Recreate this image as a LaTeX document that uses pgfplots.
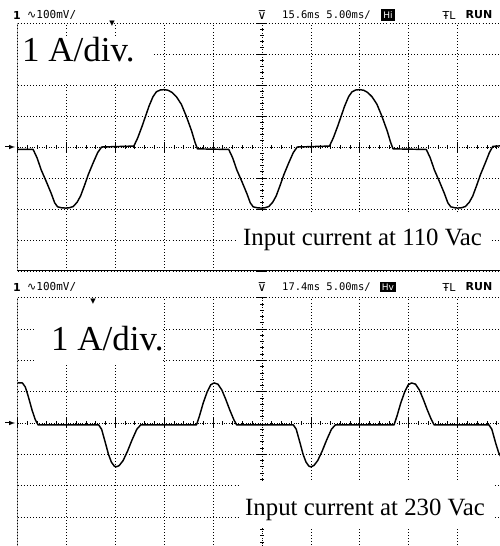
\documentclass[border=0pt]{standalone}
\usepackage{fontspec}
\setmainfont{Liberation Serif}
\newfontfamily\scopefont{DejaVu Sans Mono}
\newfontfamily\symfont{DejaVu Sans}
\usepackage{pgfplots}
\pgfplotsset{compat=1.18}
\pgfplotsset{scopegrid/.style={
  scale only axis, width=489pt,
  xmin=-5, xmax=5, ymin=-4, ymax=4,
  axis lines=middle,
  axis line style={-, black, line width=0.7pt, dash pattern=on 0.8pt off 1.6pt},
  every inner x axis line/.append style={-},
  every inner y axis line/.append style={-},
  xtick={-5,-4,-3,-2,-1,0,1,2,3,4,5}, ytick={-4,-3,-2,-1,0,1,2,3,4},
  minor tick num=4,
  xticklabels={}, yticklabels={},
  tick align=center,
  major tick length=10pt, minor tick length=4pt,
  tick style={black, line width=0.8pt, solid},
  grid=major,
  grid style={black, line width=0.7pt, dash pattern=on 0.7pt off 2.4pt},
  clip=true,
}}
\begin{document}
\begin{tikzpicture}[x=1pt,y=1pt]
\useasboundingbox (0,0) rectangle (500,546);
\clip (0,0) rectangle (500,546);
% ---------- top panel: 110 Vac ----------
\begin{axis}[scopegrid, at={(17.5pt,523pt)}, anchor=north west, height=248pt]
\addplot[black, line width=1.45pt, line join=round] coordinates {
(-5.00,-0.08) (-4.68,-0.08) (-4.60,-0.35) (-4.515,-0.74) (-4.41,-1.12) (-4.31,-1.50)
(-4.24,-1.80) (-4.18,-1.93) (-4.10,-1.96) (-4.02,-1.97) (-3.94,-1.96) (-3.86,-1.92)
(-3.78,-1.78) (-3.71,-1.58) (-3.63,-1.24) (-3.55,-0.88) (-3.45,-0.50) (-3.36,-0.18)
(-3.28,0.00) (-2.62,0.03) (-2.54,0.30) (-2.45,0.68) (-2.38,1.00) (-2.31,1.32)
(-2.23,1.62) (-2.16,1.78) (-2.08,1.84) (-2.00,1.85) (-1.92,1.83) (-1.84,1.76)
(-1.75,1.62) (-1.65,1.38) (-1.55,1.00) (-1.44,0.52) (-1.37,0.15) (-1.32,-0.06)
(-0.68,-0.08) (-0.60,-0.35) (-0.515,-0.74) (-0.41,-1.12) (-0.31,-1.50) (-0.24,-1.80)
(-0.18,-1.93) (-0.10,-1.96) (-0.02,-1.97) (0.06,-1.96) (0.14,-1.92) (0.22,-1.78)
(0.29,-1.58) (0.37,-1.24) (0.45,-0.88) (0.55,-0.50) (0.64,-0.18) (0.72,0.00)
(1.38,0.03) (1.46,0.30) (1.55,0.68) (1.62,1.00) (1.69,1.32) (1.77,1.62)
(1.84,1.78) (1.92,1.84) (2.00,1.85) (2.08,1.83) (2.16,1.76) (2.25,1.62)
(2.35,1.38) (2.45,1.00) (2.56,0.52) (2.63,0.15) (2.68,-0.06) (3.36,-0.08)
(3.44,-0.35) (3.525,-0.74) (3.63,-1.12) (3.73,-1.50) (3.80,-1.80) (3.86,-1.93)
(3.94,-1.96) (4.00,-1.97) (4.08,-1.96) (4.16,-1.92) (4.24,-1.78) (4.31,-1.58)
(4.39,-1.24) (4.47,-0.88) (4.57,-0.50) (4.65,-0.18) (4.72,0.02) (5.00,0.05)
};
\draw[line width=1.3pt] (rel axis cs:0,0) -- (rel axis cs:0,1);
\draw[line width=1.3pt] (rel axis cs:0,0) -- (rel axis cs:1,0);
\end{axis}
% ---------- bottom panel: 230 Vac ----------
\begin{axis}[scopegrid, at={(17.5pt,248.2pt)}, anchor=north west, height=250.4pt]
\addplot[black, line width=1.45pt, line join=round] coordinates {
(-5.00,1.28) (-4.90,1.28) (-4.84,1.15) (-4.78,0.85) (-4.70,0.40) (-4.64,0.12)
(-4.58,-0.06) (-3.34,-0.06) (-3.28,-0.20) (-3.20,-0.65) (-3.14,-1.00) (-3.08,-1.25)
(-3.02,-1.38) (-2.98,-1.40) (-2.92,-1.36) (-2.84,-1.20) (-2.75,-0.90) (-2.66,-0.55)
(-2.56,-0.20) (-2.48,-0.06) (-1.34,-0.06) (-1.28,0.22) (-1.20,0.65) (-1.12,1.00)
(-1.05,1.22) (-0.98,1.28) (-0.90,1.24) (-0.82,1.05) (-0.74,0.75) (-0.66,0.42)
(-0.58,0.12) (-0.52,-0.06) (0.64,-0.06) (0.70,-0.20) (0.78,-0.65) (0.84,-1.00)
(0.90,-1.25) (0.96,-1.38) (1.00,-1.40) (1.06,-1.36) (1.14,-1.20) (1.23,-0.90)
(1.32,-0.55) (1.42,-0.20) (1.50,-0.06) (2.70,-0.06) (2.76,0.22) (2.84,0.65)
(2.92,1.00) (2.99,1.22) (3.06,1.28) (3.14,1.24) (3.22,1.05) (3.30,0.75)
(3.38,0.42) (3.46,0.12) (3.52,-0.06) (4.64,-0.06) (4.70,-0.20) (4.78,-0.65)
(4.84,-0.95) (4.91,-1.15) (5.00,-1.35)
};
\draw[line width=1.3pt] (rel axis cs:0,0) -- (rel axis cs:0,1);
\end{axis}
% ---------- labels ----------
\fill[white] (18,464) rectangle (152,508);
\node[anchor=base west, inner sep=0pt, font=\fontsize{35}{35}\selectfont] at (22,484) {1 A/div.};
\fill[white] (236,276) rectangle (490,333);
\node[anchor=base west, inner sep=0pt, font=\fontsize{24.8}{25}\selectfont] at (243,300) {Input current at 110 Vac};
\fill[white] (36,181) rectangle (162,247);
\node[anchor=base west, inner sep=0pt, font=\fontsize{35}{35}\selectfont] at (51,195) {1 A/div.};
\fill[white] (240,18) rectangle (494,64);
\node[anchor=base west, inner sep=0pt, font=\fontsize{24.8}{25}\selectfont] at (245,30) {Input current at 230 Vac};
% ground markers
\draw[-latex, line width=1pt] (5,399) -- (15,399);
\draw[-latex, line width=1pt] (5,123) -- (15,123);
% ---------- header lines ----------
\foreach \yy/\tt/\hh in {531/15.6/Hi, 259/17.4/Hv} {
  \node[anchor=west, inner sep=0pt, font=\symfont\bfseries\fontsize{11}{11}\selectfont] at (13,\yy) {1};
  \node[anchor=west, inner sep=0pt, font=\scopefont\fontsize{11}{11}\selectfont] at (27,\yy) {\symfont∿\scopefont100mV/};
  \node[inner sep=0pt, font=\symfont\fontsize{12}{12}\selectfont] at (262,\yy) {⊽};
  \node[anchor=west, inner sep=0pt, font=\scopefont\fontsize{10.5}{11}\selectfont] at (282,\yy) {\tt ms 5.00ms/};
  \node[fill=black, text=white, inner sep=2.2pt, font=\symfont\fontsize{9}{9}\selectfont] at (388,\yy) {\hh};
  \node[inner sep=0pt, font=\symfont\fontsize{11}{11}\selectfont] at (449,\yy) {ŦL};
  \node[inner sep=0pt, font=\symfont\bfseries\fontsize{11}{11}\selectfont] at (479,\yy) {RUN};
}
\node[inner sep=0pt, font=\symfont\fontsize{7}{7}\selectfont] at (112,522) {▼};
\node[inner sep=0pt, font=\symfont\fontsize{7}{7}\selectfont] at (93,244) {▼};
\end{tikzpicture}
\end{document}
